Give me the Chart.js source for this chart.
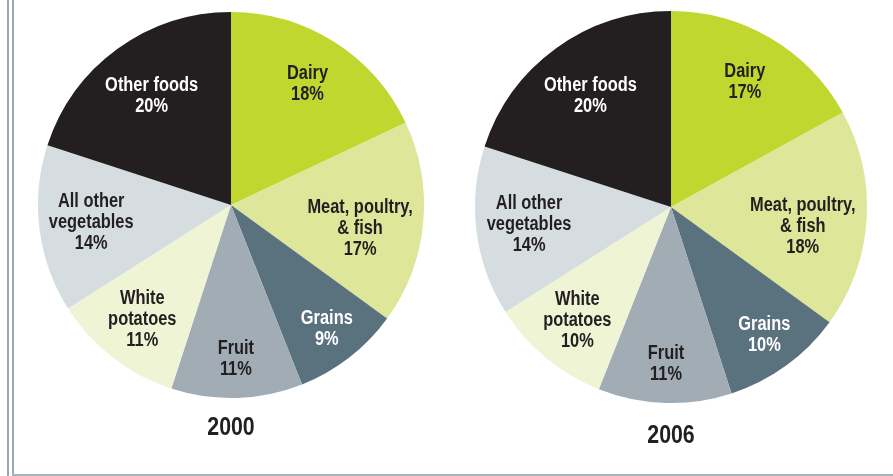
<!DOCTYPE html>
<html>
<head>
<meta charset="utf-8">
<title>Food shares 2000 and 2006</title>
<script src="https://cdn.jsdelivr.net/npm/chart.js@4.4.1/dist/chart.umd.min.js"></script>
<style>
    html, body {
        margin: 0;
        padding: 0;
        background: #ffffff;
    }
    #frame {
        position: relative;
        width: 893px;
        height: 476px;
        overflow: hidden;
    }
    .rule-v {
        position: absolute;
        top: 0;
        width: 2px;
        height: 476px;
        background: #9ca8b0;
    }
    .rule-h {
        position: absolute;
        left: 12px;
        top: 474px;
        width: 881px;
        height: 2px;
        background: #aab4bb;
    }
    canvas {
        position: absolute;
        top: 0;
    }
    #pie2000 {
        left: 21px;
    }
    #pie2006 {
        left: 461px;
    }
</style>
</head>
<body>
<div id="frame">
    <div class="rule-v" style="left: 7px;"></div>
    <div class="rule-v" style="left: 12px;"></div>
    <div class="rule-h"></div>
    <canvas id="pie2000" width="420" height="446"></canvas>
    <canvas id="pie2006" width="420" height="456"></canvas>
</div>
<script>
var categories = [
    "Dairy",
    "Meat, poultry,\n& fish",
    "Grains",
    "Fruit",
    "White\npotatoes",
    "All other\nvegetables",
    "Other foods"
];
var share2000 = [18, 17, 9, 11, 11, 14, 20];
var share2006 = [17, 18, 10, 11, 10, 14, 20];
var years = ["2000", "2006"];

var sliceColors = ["#c0d72f", "#dde699", "#5a717e", "#a1acb5", "#eff4d4", "#d6dde1", "#231f20"];
var labelColors = ["#231f20", "#231f20", "#ffffff", "#231f20", "#231f20", "#231f20", "#ffffff"];
var textFont = "'Liberation Sans', Arial, sans-serif";

// no narrow face installed, so squeeze the bold sans sideways
function condensedText(ctx, text, x, y, squeeze) {
    ctx.save();
    ctx.translate(x, y);
    ctx.scale(squeeze, 1);
    ctx.fillText(text, 0, 0);
    ctx.restore();
}

// writes "name / nn%" inside each slice at the middle of its angle,
// and the year under the pie
var sliceLabels = {
    id: "sliceLabels",
    afterDatasetsDraw: function (chart, args, opts) {
        var ctx = chart.ctx;
        var data = chart.data.datasets[0].data;
        var arcs = chart.getDatasetMeta(0).data;
        ctx.save();
        ctx.textAlign = "center";
        ctx.textBaseline = "middle";
        ctx.font = "bold " + opts.size + "px " + textFont;
        arcs.forEach(function (arc, i) {
            var p = arc.getProps(["x", "y", "startAngle", "endAngle", "outerRadius"], true);
            var mid = (p.startAngle + p.endAngle) / 2 + (opts.shift[i] || 0) * Math.PI / 180;
            var r = p.outerRadius * opts.radius[i];
            var cx = p.x + Math.cos(mid) * r;
            var cy = p.y + Math.sin(mid) * r;
            var lines = chart.data.labels[i].split("\n").concat([data[i] + "%"]);
            var top = cy - (lines.length - 1) * opts.lineHeight / 2;
            ctx.fillStyle = labelColors[i];
            lines.forEach(function (line, k) {
                condensedText(ctx, line, cx, top + k * opts.lineHeight, opts.squeeze);
            });
        });

        var first = arcs[0].getProps(["x", "y", "outerRadius"], true);
        ctx.fillStyle = "#231f20";
        ctx.font = "bold " + opts.yearSize + "px " + textFont;
        condensedText(ctx, opts.year, first.x, first.y + first.outerRadius + opts.yearGap, opts.squeeze);
        ctx.restore();
    }
};

function makePie(id, values, year, pad, yearGap) {
    var canvas = document.getElementById(id);
    if (canvas == null) {
        return null;
    }
    return new Chart(canvas.getContext("2d"), {
        type: "pie",
        data: {
            labels: categories,
            datasets: [
                {
                    data: values,
                    backgroundColor: sliceColors,
                    borderWidth: 0,
                },
            ],
        },
        plugins: [sliceLabels],
        options: {
            responsive: false,
            animation: false,
            devicePixelRatio: 1,
            layout: {
                padding: pad,
            },
            plugins: {
                legend: {
                    display: false,
                },
                tooltip: {
                    enabled: false,
                },
                sliceLabels: {
                    size: 20,
                    lineHeight: 21,
                    squeeze: 0.82,
                    radius: [0.74, 0.68, 0.81, 0.8, 0.75, 0.73, 0.7],
                    shift: [0, 5, 0, 0, 0, 0, 0],
                    year: year,
                    yearSize: 26,
                    yearGap: yearGap,
                },
            },
        },
    });
}

makePie("pie2000", share2000, years[0], { top: 12, bottom: 48, left: 0, right: 0 }, 30);
makePie("pie2006", share2006, years[1], { top: 11, bottom: 53, left: 0, right: 0 }, 33);
</script>
</body>
</html>
